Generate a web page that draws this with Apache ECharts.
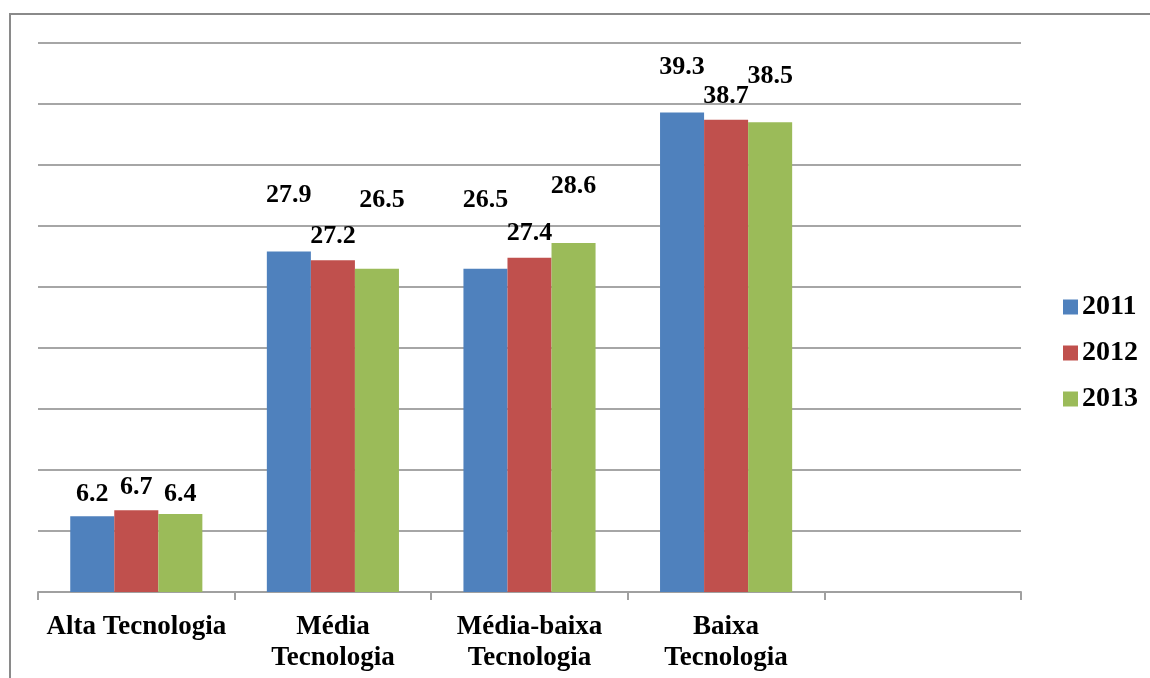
<!DOCTYPE html>
<html>
<head>
<meta charset="utf-8">
<style>
html,body{margin:0;padding:0;background:#fff;}
#chart{width:1150px;height:678px;}
</style>
<script src="https://cdn.jsdelivr.net/npm/echarts@6/dist/echarts.min.js"></script>
</head>
<body>
<div id="chart"></div>
<script>
const categories = ['Alta Tecnologia', 'Média\nTecnologia', 'Média-baixa\nTecnologia', 'Baixa\nTecnologia', ''];
const seriesNames = ['2011', '2012', '2013'];
const values2011 = [6.2, 27.9, 26.5, 39.3];
const values2012 = [6.7, 27.2, 27.4, 38.7];
const values2013 = [6.4, 26.5, 28.6, 38.5];
const colors = ['#4F81BD', '#C0504D', '#9BBB59'];
// label nudges (text placement only, as in the source chart)
const labelShift2011 = [[0,-4],[0,-38],[0,-50],[0,-27]];
const labelShift2012 = [[0,-5],[0,-6],[0,-6],[0,-6]];
const labelShift2013 = [[0,-2],[5,-50],[0,-39],[0,-28]];

const font = "'Liberation Serif', 'Times New Roman', serif";
const allValues = [values2011, values2012, values2013];
const allShifts = [labelShift2011, labelShift2012, labelShift2013];

const chart = echarts.init(document.getElementById('chart'), null, {renderer: 'canvas'});
const option = {
  backgroundColor: '#fff',
  animation: false,
  graphic: [{
    type: 'rect',
    shape: {x: 10, y: 14, width: 1200, height: 720},
    style: {fill: 'none', stroke: '#8a8a8a', lineWidth: 2},
    silent: true
  }],
  grid: {left: 38, right: 129, top: 43, bottom: 86, containLabel: false},
  legend: {
    orient: 'vertical',
    left: 1058,
    top: 288,
    itemWidth: 15,
    itemHeight: 15,
    itemGap: 18,
    icon: 'rect',
    data: seriesNames,
    textStyle: {fontFamily: font, fontSize: 28, fontWeight: 'bold', color: '#000', padding: [0, 0, 0, -1]}
  },
  xAxis: {
    type: 'category',
    data: categories,
    axisLine: {lineStyle: {color: '#a0a0a0', width: 2}},
    axisTick: {show: true, length: 8, lineStyle: {color: '#a0a0a0', width: 2}},
    axisLabel: {
      interval: 0, margin: 20, lineHeight: 31,
      fontFamily: font, fontSize: 27, fontWeight: 'bold', color: '#000'
    }
  },
  yAxis: {
    type: 'value',
    min: 0, max: 45, interval: 5,
    axisLabel: {show: false},
    axisLine: {show: false},
    axisTick: {show: false},
    splitLine: {lineStyle: {color: '#a6a6a6', width: 2}}
  },
  series: seriesNames.map((name, s) => ({
    name: name,
    type: 'bar',
    barGap: 0,
    barCategoryGap: '32.8%',
    itemStyle: {color: colors[s]},
    label: {
      show: true, position: 'top', distance: 5,
      fontFamily: font, fontSize: 26, fontWeight: 'bold', color: '#000'
    },
    data: allValues[s].map((v, i) => ({value: v, label: {offset: allShifts[s][i]}}))
  }))
};
chart.setOption(option);
</script>
</body>
</html>
